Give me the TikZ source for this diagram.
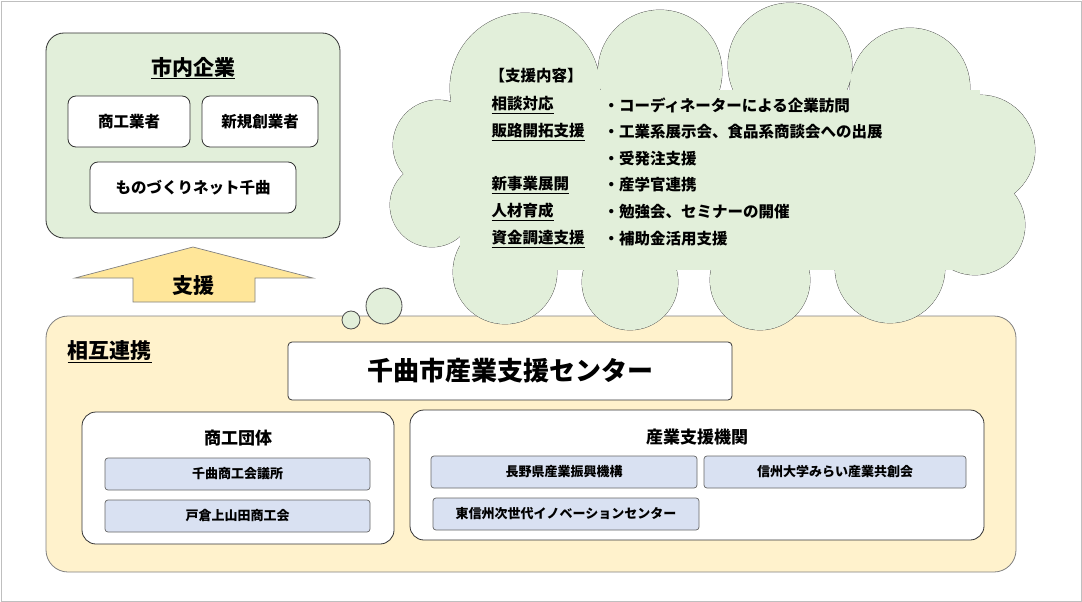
\documentclass[tikz,border=0pt]{standalone}
\usepackage{fontspec}
\setmainfont{Noto Sans CJK JP}
\begin{document}
\begin{tikzpicture}[x=1pt,y=-1pt,
 box/.style={draw=black!80,line width=0.8pt,rounded corners=8pt,fill=white},
 sub/.style={draw=black!60,line width=0.7pt,rounded corners=3pt,fill=sb,font=\fontsize{13}{15}\selectfont\bfseries},
 lbl/.style={font=\fontsize{15.5}{18}\selectfont\bfseries,anchor=west},
 ttl/.style={font=\fontsize{21}{24}\selectfont\bfseries}]
\definecolor{lg}{HTML}{E2EFDA}\definecolor{ly}{HTML}{FFF2CC}\definecolor{ay}{HTML}{FFE699}\definecolor{sb}{HTML}{D9E1F2}
\useasboundingbox (0,0) rectangle (1082,602);
\draw[black!25] (1,1) rectangle (1081,601);
% green
\draw[box,fill=lg,rounded corners=18pt] (46,33) rectangle (340,238);
\node[ttl] (t1) at (193,68) {\underline{市内企業}};
\node[box,minimum width=122pt,minimum height=51pt,font=\fontsize{15.5}{18}\selectfont\bfseries] (a) at (129,121.5) {商工業者};
\node[box,minimum width=116pt,minimum height=51pt,font=\fontsize{15.5}{18}\selectfont\bfseries] (b) at (260,121.5) {新規創業者};
\node[box,minimum width=206pt,minimum height=51pt,font=\fontsize{15.5}{18}\selectfont\bfseries] (c) at (193,187.5) {ものづくりネット千曲};
% arrow
\draw[fill=ay,draw=black!50,line width=0.7pt] (133,302)--(133,278)--(75,278)--(193,247)--(313,278)--(255,278)--(255,302)--cycle;
\node[ttl] (s) at (193,286) {支援};
% yellow
\draw[box,fill=ly,rounded corners=22pt,draw=black!50] (46,316) rectangle (1016,572);
\node[ttl,anchor=west] (t2) at (64,352) {\underline{相互連携}};
\node[box,rounded corners=4pt,minimum width=444pt,minimum height=58pt,font=\fontsize{26}{30}\selectfont\bfseries] (ctr) at (510,371) {千曲市産業支援センター};
% cloud
\def\lobes{(525,88) circle (75) (660,72) circle (62) (790,65) circle (62) (910,88) circle (60) (980,150) circle (55) (975,225) circle (50) (890,268) circle (55) (760,280) circle (50) (630,282) circle (48) (505,272) circle (52) (432,205) circle (42) (438,145) circle (45)}
\draw[line width=0.8pt,draw=black!70,fill=lg] \lobes;
\fill[lg] \lobes;
\fill[lg] (460,90) rectangle (980,270);
\draw[line width=0.8pt,draw=black!70,fill=lg] (384,306) circle (18) (351,320) circle (9);
\node[lbl] (h) at (486,76) {【支援内容】};
\foreach \y/\l/\r in {105/相談対応/・コーディネーターによる企業訪問,132/販路開拓支援/・工業系展示会、食品系商談会への出展,159//・受発注支援,185/新事業展開/・産学官連携,212/人材育成/・勉強会、セミナーの開催,239/資金調達支援/・補助金活用支援}{
 \node[lbl] at (488,\y) {\underline{\l}};
 \node[lbl] at (600,\y) {\r};}
% groups
\draw[box,rounded corners=14pt] (82,412) rectangle (394,544);
\node[font=\fontsize{17}{20}\selectfont\bfseries] (g1) at (238,438) {商工団体};
\node[sub,minimum width=265pt,minimum height=32pt] (k1) at (237.5,474) {千曲商工会議所};
\node[sub,minimum width=265pt,minimum height=32pt] (k2) at (237.5,516) {戸倉上山田商工会};
\draw[box,rounded corners=14pt] (410,410) rectangle (984,540);
\node[font=\fontsize{17}{20}\selectfont\bfseries] (g2) at (697,437) {産業支援機関};
\node[sub,minimum width=266pt,minimum height=32pt] (m1) at (564,472) {長野県産業振興機構};
\node[sub,minimum width=262pt,minimum height=32pt] (m2) at (835,472) {信州大学みらい産業共創会};
\node[sub,minimum width=266pt,minimum height=32pt] (m3) at (566,514) {東信州次世代イノベーションセンター};
\end{tikzpicture}
\end{document}
